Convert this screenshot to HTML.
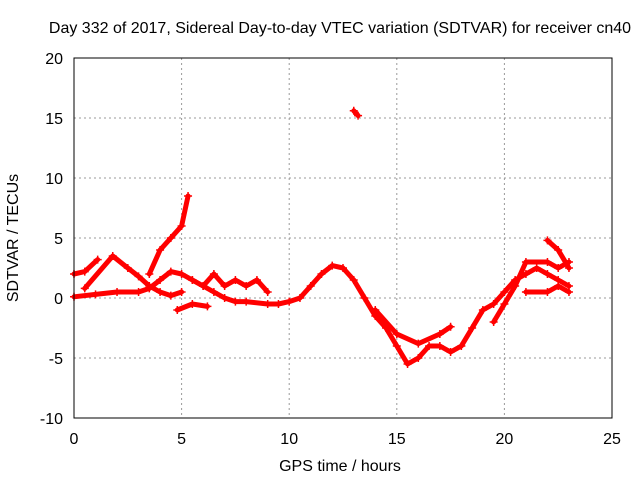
<!DOCTYPE html>
<html><head><meta charset="utf-8"><style>
body{margin:0;background:#fff;}
svg text{font-family:"Liberation Sans",sans-serif;font-size:16px;fill:#000;}
</style></head><body>
<svg id="chart" width="640" height="480">
<text x="340" y="33" text-anchor="middle">Day 332 of 2017, Sidereal Day-to-day VTEC variation (SDTVAR) for receiver cn40</text>
<text x="340" y="471" text-anchor="middle">GPS time / hours</text>
<text transform="translate(18,238) rotate(-90)" text-anchor="middle">SDTVAR / TECUs</text>
<g id="grid"></g><g id="marks"></g>
<rect x="74" y="58" width="538" height="360" fill="none" stroke="#000"/>
</svg>
<script>
const xTicks=[0,5,10,15,20,25];
const yTicks=[-10,-5,0,5,10,15,20];
const trace1=[[0,2],[0.5,2.2],[1.1,3.2]];
const trace2=[[0,0.1],[1,0.3],[2,0.5],[3,0.5],[3.5,0.8],[4,1.5],[4.5,2.2],[5,2],[5.5,1.5],[6,1],[6.5,0.5],[7,0],[7.5,-0.3],[8,-0.3],[9,-0.5],[9.5,-0.5],[10,-0.3],[10.5,0],[11,1],[11.5,2],[12,2.7],[12.5,2.5],[13,1.5],[13.5,0],[14,-1.5],[14.5,-2.5],[15,-4],[15.5,-5.5],[16,-5],[16.5,-4],[17,-4],[17.5,-4.5],[18,-4],[18.5,-2.5],[19,-1],[19.5,-0.5],[20,0.5],[20.5,1.5],[21,2],[21.5,2.5],[22,2],[22.5,1.5],[23,1]];
const trace3=[[0.5,0.8],[1.8,3.5],[2.5,2.5],[3,1.8],[3.5,1],[4,0.5],[4.5,0.2],[5,0.5]];
const trace4=[[3.5,2],[4,4],[4.5,5],[5,6],[5.3,8.5]];
const trace5=[[4.8,-1],[5.5,-0.5],[6.2,-0.7]];
const trace6=[[5.5,1.5],[6,1],[6.5,2],[7,1],[7.5,1.5],[8,1],[8.5,1.5],[9,0.5]];
const trace7=[[13,15.6],[13.2,15.2]];
const trace8=[[14,-1],[15,-3],[16,-3.8],[17,-3],[17.5,-2.4]];
const trace9=[[19.5,-2],[20,-0.5],[20.5,1],[21,3],[22,3],[22.5,2.5],[23,3]];
const trace10=[[21,0.5],[22,0.5],[22.5,1],[23,0.5]];
const trace11=[[22,4.8],[22.5,4],[23,2.5]];
const traces=[trace1,trace2,trace3,trace4,trace5,trace6,trace7,trace8,trace9,trace10,trace11];
const X=v=>74+v*538/25, Y=v=>418-(v+10)*12;
const NS="http://www.w3.org/2000/svg";
const svg=document.getElementById('chart'),grid=document.getElementById('grid'),marks=document.getElementById('marks');
function mk(t,a,p){const e=document.createElementNS(NS,t);for(const k in a)e.setAttribute(k,a[k]);p.appendChild(e);return e;}
xTicks.forEach(t=>{
 const l=mk('line',{x1:X(t),x2:X(t),y1:58,y2:418,stroke:'#999','stroke-dasharray':'2,3'},grid);
 
 
 const tx=mk('text',{x:X(t),y:444,'text-anchor':'middle'},svg);tx.textContent=t;
 
 
});
yTicks.forEach(t=>{
 const l=mk('line',{x1:74,x2:612,y1:Y(t),y2:Y(t),stroke:'#999','stroke-dasharray':'2,3'},grid);
 
 
 const tx=mk('text',{x:63,y:Y(t)+6,'text-anchor':'end'},svg);tx.textContent=t;
 
 
});
traces.forEach(tr=>{
 const pl=mk('polyline',{points:tr.map(p=>X(p[0])+','+Y(p[1])).join(' '),fill:'none',stroke:'#f00','stroke-width':5,'stroke-linejoin':'round','stroke-linecap':'round'},marks);
 
 
 tr.forEach(p=>{
  const c=mk('path',{d:`M${X(p[0])-4},${Y(p[1])}h8M${X(p[0])},${Y(p[1])-4}v8`,stroke:'#f00','stroke-width':1.5},marks);
  
  
 });
});
</script>
</body></html>
